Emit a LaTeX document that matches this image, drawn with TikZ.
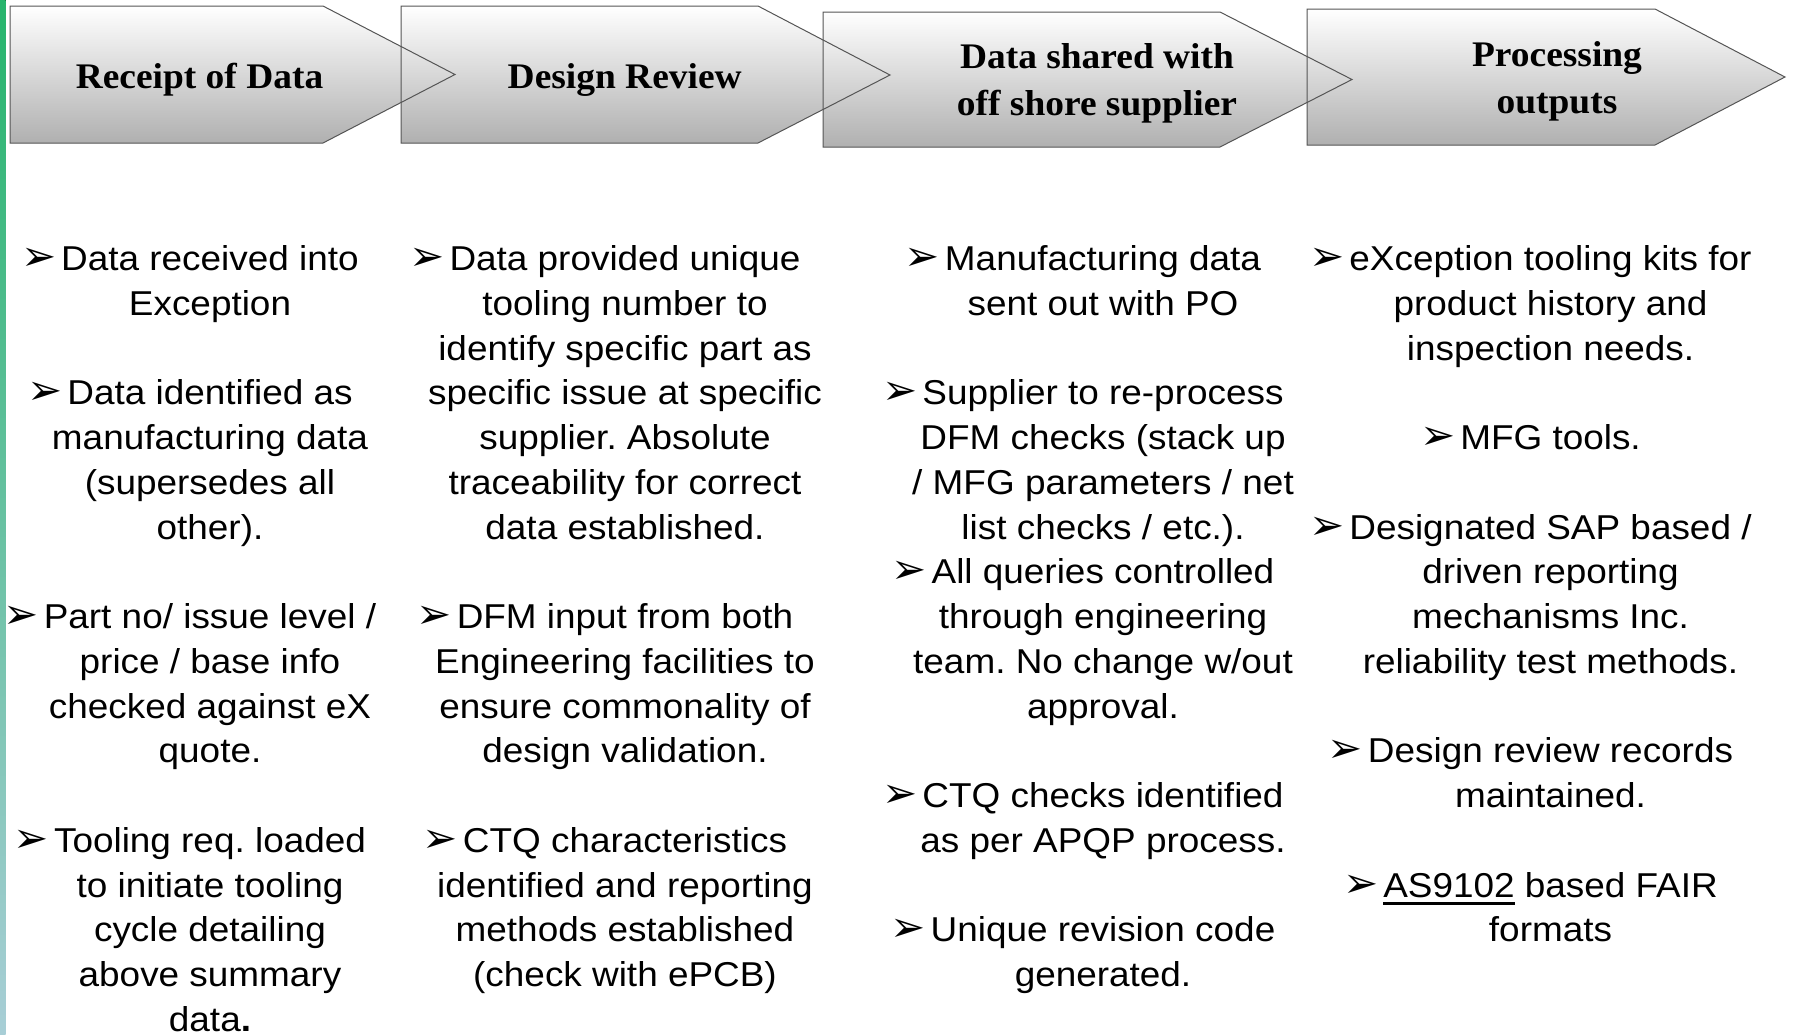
\documentclass[tikz,border=0pt]{standalone}
\usepackage{fontspec}
\setmainfont{Liberation Sans}
% body text: Arial-like, slightly widened
\newfontfamily\bodyfont[FakeStretch=1.07]{Liberation Sans}
% chevron titles: Times-like bold, slightly widened
\newfontfamily\headfont[FakeStretch=1.04]{Liberation Serif}
% bullet glyph
\newfontfamily\dingfont{DejaVu Sans}

\definecolor{edgegray}{RGB}{85,85,85}
\definecolor{fillbottom}{RGB}{176,176,176}
\definecolor{stripgreen}{RGB}{38,180,108}
\definecolor{stripteal}{RGB}{105,190,165}
\definecolor{stripblue}{RGB}{168,206,214}

% hanging arrowhead bullet, kept out of the centring
\newcommand\pbul{\llap{{\dingfont\fontsize{42}{42}\selectfont ➢}\hspace{5pt}}}
% underlined word
\newcommand\ulword[1]{\setbox0=\hbox{#1}\rlap{\rule[-7.5pt]{\wd0}{2.6pt}}\box0\relax}

\tikzset{
  chevronfill/.style={top color=white, bottom color=fillbottom, draw=none},
  chevronedge/.style={draw=edgegray, line width=1pt, line join=miter},
  headtext/.style={inner sep=0pt, anchor=base,
    font=\headfont\bfseries\fontsize{36}{47}\selectfont},
  bodytext/.style={inner sep=0pt, anchor=base,
    font=\bodyfont\fontsize{34.5}{44.75}\selectfont},
}

\begin{document}
\frenchspacing
\begin{tikzpicture}[x=1pt,y=1pt]
\useasboundingbox (0,0) rectangle (1793,-1034);

% coloured strip on the left edge
\fill[top color=stripgreen, middle color=stripteal, bottom color=stripblue]
  (0,0) rectangle (5.5,-1034);

% process chevrons: fills first, then all outlines on top
\foreach \xl/\yt/\xs/\xp/\ym/\yb in
  {10/6/323/455/74.5/143, 401/6/758/890/75/143,
   823/12/1220/1352/79.5/147, 1307/9/1655/1785/77/145}
  \path[chevronfill] (\xl,-\yt) -- (\xs,-\yt) -- (\xp,-\ym) -- (\xs,-\yb) -- (\xl,-\yb) -- cycle;
\foreach \xl/\yt/\xs/\xp/\ym/\yb in
  {10/6/323/455/74.5/143, 401/6/758/890/75/143,
   823/12/1220/1352/79.5/147, 1307/9/1655/1785/77/145}
  \draw[chevronedge] (\xl,-\yt) -- (\xs,-\yt) -- (\xp,-\ym) -- (\xs,-\yb) -- (\xl,-\yb) -- cycle;

% chevron titles
\node[headtext] (h1) at (199.5,-88) {Receipt of Data};
\node[headtext] (h2) at (624.7,-88) {Design Review};
\node[headtext] (h3) at (1097,-68.3) {\begin{tabular}[t]{@{}c@{}}Data shared with\\off shore supplier\end{tabular}};
\node[headtext] (h4) at (1557,-66.4) {\begin{tabular}[t]{@{}c@{}}Processing\\outputs\end{tabular}};

% step details
\node[bodytext] (c1) at (210,-270.5) {\begin{tabular}[t]{@{}c@{}}
\pbul Data received into\\
Exception\\
\\
\pbul Data identified as\\
manufacturing data\\
(supersedes all\\
other).\\
\\
\pbul Part no/ issue level /\\
price / base info\\
checked against eX\\
quote.\\
\\
\pbul Tooling req. loaded\\
to initiate tooling\\
cycle detailing\\
above summary\\
data\textbf{.}
\end{tabular}};

\node[bodytext] (c2) at (625,-270.5) {\begin{tabular}[t]{@{}c@{}}
\pbul Data provided unique\\
tooling number to\\
identify specific part as\\
specific issue at specific\\
supplier. Absolute\\
traceability for correct\\
data established.\\
\\
\pbul DFM input from both\\
Engineering facilities to\\
ensure commonality of\\
design validation.\\
\\
\pbul CTQ characteristics\\
identified and reporting\\
methods established\\
(check with ePCB)
\end{tabular}};

\node[bodytext] (c3) at (1103,-270.5) {\begin{tabular}[t]{@{}c@{}}
\pbul Manufacturing data\\
sent out with PO\\
\\
\pbul Supplier to re-process\\
DFM checks (stack up\\
/ MFG parameters / net\\
list checks / etc.).\\
\pbul All queries controlled\\
through engineering\\
team. No change w/out\\
approval.\\
\\
\pbul CTQ checks identified\\
as per APQP process.\\
\\
\pbul Unique revision code\\
generated.
\end{tabular}};

\node[bodytext] (c4) at (1550.5,-270.5) {\begin{tabular}[t]{@{}c@{}}
\pbul eXception tooling kits for\\
product history and\\
inspection needs.\\
\\
\pbul MFG tools.\\
\\
\pbul Designated SAP based /\\
driven reporting\\
mechanisms Inc.\\
reliability test methods.\\
\\
\pbul Design review records\\
maintained.\\
\\
\pbul \ulword{AS9102} based FAIR\\
formats
\end{tabular}};
\end{tikzpicture}
\end{document}
